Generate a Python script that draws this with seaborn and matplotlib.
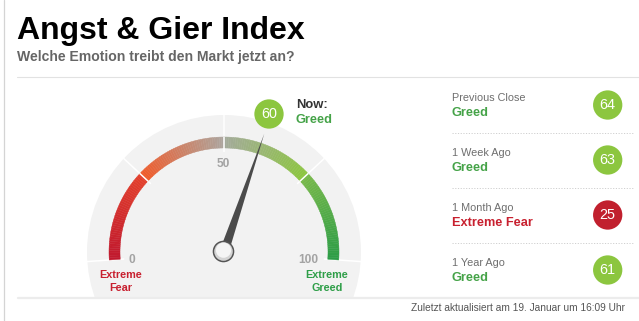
import numpy as np
import pandas as pd
import matplotlib
matplotlib.use("Agg")
import matplotlib.pyplot as plt
import seaborn as sns
from matplotlib.patches import Wedge, Circle, Polygon, Rectangle
from matplotlib.colors import to_rgb

# ---------------- data ----------------
title = "Angst & Gier Index"
subtitle = "Welche Emotion treibt den Markt jetzt an?"
now_value = 60
now_rating = "Greed"
zone_edges = [0, 25, 50, 75, 100]
gauge_ticks = [0, 50, 100]
end_labels = ["Extreme\nFear", "Extreme\nGreed"]
end_ratings = ["Extreme Fear", "Extreme Greed"]
history_labels = ["Previous Close", "1 Week Ago", "1 Month Ago", "1 Year Ago"]
history_values = [64, 63, 25, 61]
history_ratings = ["Greed", "Greed", "Extreme Fear", "Greed"]
footer = "Zuletzt aktualisiert am 19. Januar um 16:09 Uhr"

# ---------------- styles ----------------
circle_colors = {"Greed": "#8cc63f", "Extreme Fear": "#c1202e"}
text_colors = {"Greed": "#45a348", "Extreme Fear": "#c8202f",
               "Extreme Greed": "#2e9e48"}
zone_gradients = [("#c0182e", "#e3412c"), ("#f15a29", "#aca69f"),
                  ("#a4aa9c", "#8cc63f"), ("#79b94a", "#2c9d47")]

W, H = 639, 321


def Y(y):
    return H - y


sns.set_theme(style="white")
plt.rcParams["font.family"] = ["Liberation Sans", "DejaVu Sans"]

fig = plt.figure(figsize=(W / 100, H / 100), dpi=100)
ax = fig.add_axes([0, 0, 1, 1])

# ---------------- gauge geometry ----------------
cx, cy = 224, Y(252)


def ang(v):
    return 184 - 1.88 * v


def pol(r, a):
    return cx + r * np.cos(np.radians(a)), cy + r * np.sin(np.radians(a))


bg = Circle((cx, cy), 137, fc="#f2f2f2", ec="none", zorder=1)
ax.add_patch(bg)
bg.set_clip_path(Rectangle((0, Y(296.5)), W, H, transform=ax.transData))

for v in zone_edges:
    (x0, y0), (x1, y1) = pol(100, ang(v)), pol(138, ang(v))
    ln, = ax.plot([x0, x1], [y0, y1], color="white", lw=1.1, zorder=2,
                  solid_capstyle="butt")
    ln.set_clip_path(Rectangle((0, Y(296.5)), W, H, transform=ax.transData))

r_out, band_w = 115, 11
for k, (v0, v1) in enumerate(zip(zone_edges[:-1], zone_edges[1:])):
    c0, c1 = np.array(to_rgb(zone_gradients[k][0])), np.array(to_rgb(zone_gradients[k][1]))
    n = 40
    vs = np.linspace(v0, v1, n + 1)
    for j in range(n):
        t = (j + 0.5) / n
        col = (1 - t) * c0 + t * c1
        ax.add_patch(Wedge((cx, cy), r_out, ang(vs[j + 1]), ang(vs[j]),
                           width=band_w, fc=col, ec=col, lw=0.3, zorder=3))

for v in zone_edges[1:-1]:
    (x0, y0), (x1, y1) = pol(r_out - band_w - 0.5, ang(v)), pol(r_out + 0.5, ang(v))
    ax.plot([x0, x1], [y0, y1], color="white", lw=1.1, zorder=4,
            solid_capstyle="butt")

# tick labels
tick_pos = {0: (132, 263.3), 50: (223.3, 166.7), 100: (308, 263.3)}
for v in gauge_ticks:
    x, y = tick_pos[v]
    ax.text(x, Y(y), str(v), ha="center", va="baseline", color="#a3a3a3",
            fontsize=8.6, fontweight="bold", zorder=4)

end_pos = [(121, 277.7), (326.7, 277.7)]
for lab, rat, (x, y) in zip(end_labels, end_ratings, end_pos):
    l1, l2 = lab.split("\n")
    ax.text(x, Y(y), l1, ha="center", va="baseline", color=text_colors[rat],
            fontsize=7.85, fontweight="bold", zorder=4)
    ax.text(x, Y(y + 13.3), l2, ha="center", va="baseline", color=text_colors[rat],
            fontsize=7.85, fontweight="bold", zorder=4)

# needle
a = ang(now_value)
tip = pol(125, a)
b1 = (cx + 4.6 * np.cos(np.radians(a + 90)), cy + 4.6 * np.sin(np.radians(a + 90)))
b2 = (cx + 4.6 * np.cos(np.radians(a - 90)), cy + 4.6 * np.sin(np.radians(a - 90)))
ax.add_patch(Polygon([tip, b1, b2], closed=True, fc="#4b4b4b", ec="none", zorder=5))

# knob
ax.add_patch(Circle((cx - 0.5, cy + 0.5), 10.8, fc="#555555", ec="none", zorder=6))
ax.add_patch(Circle((cx - 0.5, cy + 0.5), 9.3, fc="#d4d4d4", ec="none", zorder=7))
ax.add_patch(Circle((cx - 0.5, cy + 1.8), 7.6, fc="#f5f5f5", ec="none", zorder=8))

# ---------------- circles (seaborn) ----------------
now_xy = (269, Y(114))
hist_x = 607.7
hist_y = [Y(105 + 55 * i) for i in range(len(history_values))]
df = pd.DataFrame({
    "x": [now_xy[0]] + [hist_x] * len(history_values),
    "y": [now_xy[1]] + hist_y,
    "value": [now_value] + history_values,
    "rating": [now_rating] + history_ratings,
})
sns.scatterplot(data=df, x="x", y="y", hue="rating", palette=circle_colors,
                s=445, linewidth=0, legend=False, ax=ax, zorder=9)
for _, row in df.iterrows():
    ax.text(row["x"], row["y"] - 0.3, str(row["value"]), ha="center", va="center",
            color="white", fontsize=10.4, zorder=10)

ax.text(296, Y(108.3), "Now:", ha="left", va="baseline", color="#333333",
        fontsize=9.4, fontweight="bold")
ax.text(296, Y(123.3), now_rating, ha="left", va="baseline",
        color=text_colors[now_rating], fontsize=9.2, fontweight="bold")

# history texts
for i, (lab, rat) in enumerate(zip(history_labels, history_ratings)):
    ax.text(451.5, Y(100.7 + 55 * i), lab, ha="left", va="baseline",
            color="#6e6e6e", fontsize=7.8)
    ax.text(451.5, Y(116 + 55 * i), rat, ha="left", va="baseline",
            color=text_colors[rat], fontsize=9.15, fontweight="bold")
for i in range(3):
    yy = Y(132.5 + 55 * i)
    ax.plot([451.5, 633], [yy, yy], color="#cfcfcf", lw=0.7,
            linestyle=(0, (1.2, 1.6)))

# ---------------- header / frame ----------------
ax.text(17, Y(38.5), title, ha="left", va="baseline", color="#000000",
        fontsize=23.0, fontweight="bold")
ax.text(17, Y(61), subtitle, ha="left", va="baseline", color="#666666",
        fontsize=10.1, fontweight="bold")
ax.plot([17, W], [Y(76.5), Y(76.5)], color="#e2e2e2", lw=0.8)
ax.plot([3.5, 3.5], [0, H], color="#d4d4d4", lw=0.9)
ax.plot([18, W], [Y(297.6), Y(297.6)], color="#ececec", lw=1.6)

ax.text(625, Y(310.7), footer, ha="right", va="baseline", color="#555555",
        fontsize=7.3)

ax.set_xlim(0, W)
ax.set_ylim(0, H)
ax.set_axis_off()

fig.savefig("out.png", dpi=100)
